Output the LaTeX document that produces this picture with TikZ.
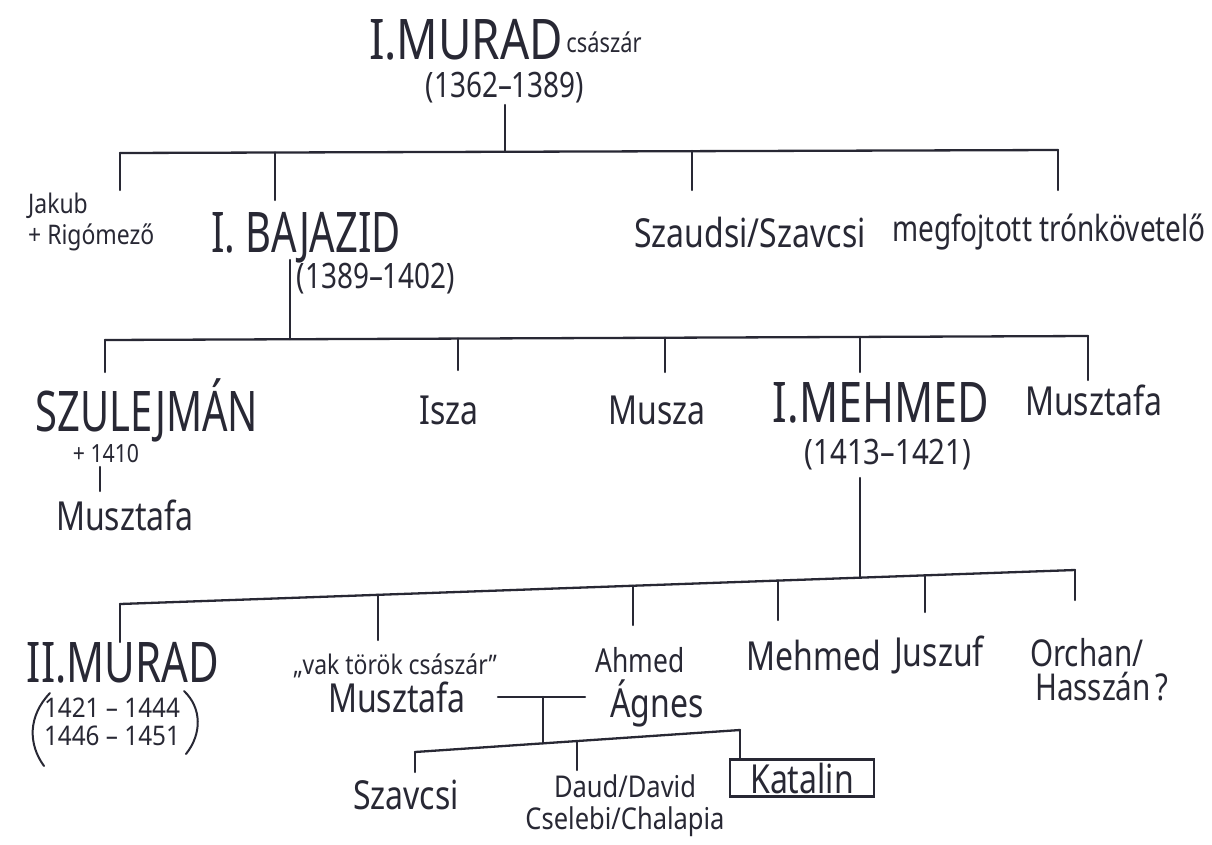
\documentclass[tikz,border=0pt]{standalone}
\usepackage{fontspec}
\setmainfont{Noto Sans}
\definecolor{ink}{RGB}{40,40,52}
\tikzset{
  big/.style={font=\fontsize{56}{56}\selectfont, xscale=0.75, text=ink, inner sep=0pt},
  med/.style={font=\fontsize{40}{40}\selectfont, xscale=0.8, text=ink, inner sep=0pt},
  sml/.style={font=\fontsize{27}{31}\selectfont, xscale=0.85, text=ink, inner sep=0pt},
  dat/.style={font=\fontsize{35}{36}\selectfont, xscale=0.84, text=ink, inner sep=0pt},
  ln/.style={draw=ink, line width=2.3pt, line cap=round, line join=round}
}
\begin{document}
\begin{tikzpicture}[x=1pt,y=-1pt]
\useasboundingbox[fill=white] (0,0) rectangle (1212,844);
% level 0
\node[big, xscale=1.09] (murad1) at (466,40) {I.MURAD};
\node[sml, xscale=0.95] (csaszar) at (604,42) {császár};
\node[dat, xscale=0.95] (d0) at (505,88) {(1362–1389)};
\coordinate (m0) at (505,105);
\coordinate (b0) at (505,151);
\coordinate (b0l) at (120,153);
\coordinate (b0r) at (1058,150);
\draw[ln] (m0) -- (b0);
\draw[ln] (b0l) -- (b0r);
% level 1
\node[sml, align=left, anchor=west] (jakub) at (28,222) {Jakub\\+ Rigómező};
\node[big, xscale=0.95] (bajazid) at (306,238) {I. BAJAZID};
\node[dat, xscale=0.95] (d1) at (376,279) {(1389–1402)};
\node[med] (szaudsi) at (750,232) {Szaudsi/Szavcsi};
\node[med, font=\fontsize{36}{36}\selectfont, xscale=0.97] (megfojtott) at (1049,232) {megfojtott trónkövetelő};
\coordinate (j1) at (120,190);
\coordinate (j2) at (275,200);
\coordinate (j3) at (692,190);
\coordinate (j4) at (1058,190);
\draw[ln] (b0l) -- (j1);
\draw[ln] (275,152.5) -- (j2);
\draw[ln] (692,151) -- (j3);
\draw[ln] (b0r) -- (j4);
% level 2
\coordinate (m1) at (290,260);
\coordinate (b1) at (290,339);
\coordinate (b1l) at (105,340);
\coordinate (b1r) at (1088,336);
\draw[ln] (m1) -- (b1);
\draw[ln] (b1l) -- (b1r);
\node[big, xscale=0.95] (szulejman) at (147,410) {SZULEJMÁN};
\node[sml, font=\fontsize{25}{25}\selectfont] (d2) at (106,454) {+ 1410};
\node[med] (musztafa1) at (125,515) {Musztafa};
\node[med] (isza) at (449,410) {Isza};
\node[med] (musza) at (657,410) {Musza};
\node[big, xscale=1.03] (mehmed1) at (881,403) {I.MEHMED};
\node[dat] (d3) at (888,455) {(1413–1421)};
\node[med] (musztafa2) at (1094,400) {Musztafa};
\coordinate (k1) at (105,372);
\coordinate (k2) at (458,370);
\coordinate (k3) at (665,372);
\coordinate (k4) at (860,372);
\coordinate (k5) at (1088,380);
\draw[ln] (b1l) -- (k1);
\draw[ln] (458,338.5) -- (k2);
\draw[ln] (665,337.7) -- (k3);
\draw[ln] (860,337) -- (k4);
\draw[ln] (b1r) -- (k5);
\coordinate (s1) at (100,467);
\coordinate (s2) at (100,491);
\draw[ln] (s1) -- (s2);
% level 3
\coordinate (m2) at (860,478);
\coordinate (b2) at (860,577.6);
\coordinate (b2l) at (120,604);
\coordinate (b2r) at (1075,570);
\draw[ln] (m2) -- (b2);
\draw[ln] (b2l) -- (b2r);
\coordinate (n1) at (120,642);
\coordinate (n2) at (378,640);
\coordinate (n3) at (633,625);
\coordinate (n4) at (778,620);
\coordinate (n5) at (925,612);
\coordinate (n6) at (1075,600);
\draw[ln] (b2l) -- (n1);
\draw[ln] (378,594.8) -- (n2);
\draw[ln] (633,585.7) -- (n3);
\draw[ln] (778,580.5) -- (n4);
\draw[ln] (925,575.3) -- (n5);
\draw[ln] (b2r) -- (n6);
\node[big] (murad2) at (123,663) {II.MURAD};
\node[font=\fontsize{27}{28}\selectfont, xscale=0.9, text=ink, inner sep=0pt, align=center] (d4) at (112,722) {1421 – 1444\\1446 – 1451};
\draw[ln, line width=2pt] (50,693) .. controls (28,716) and (28,744) .. (44,766);
\draw[ln, line width=2pt] (184,691) .. controls (202,708) and (202,734) .. (186,754);
\node[sml] (vak) at (395,666) {„vak török császár”};
\node[med] (musztafa3) at (397,697) {Musztafa};
\node[med, font=\fontsize{33}{33}\selectfont] (ahmed) at (640,660) {Ahmed};
\node[med] (agnes) at (657,703) {Ágnes};
\node[med] (mehmed2) at (814,655) {Mehmed};
\node[med] (juszuf) at (939,655) {Juszuf};
\node[med, font=\fontsize{37}{34}\selectfont, align=left, anchor=west] (orchan) at (1030,670) {Orchan/\\\,Hasszán\,?};
% marriage
\coordinate (h1) at (498,697);
\coordinate (h2) at (585,697);
\draw[ln] (h1) -- (h2);
\coordinate (h3) at (543,697);
\coordinate (b3) at (543,743.3);
\draw[ln] (h3) -- (b3);
% level 4
\coordinate (b3l) at (415,752);
\coordinate (b3r) at (740,730);
\draw[ln] (b3l) -- (b3r);
\coordinate (p1) at (415,772);
\coordinate (p2) at (577,770);
\draw[ln] (b3l) -- (p1);
\draw[ln] (577,741) -- (p2);
\node[med] (szavcsi) at (406,795) {Szavcsi};
\node[sml, font=\fontsize{30}{32}\selectfont, align=center] (daud) at (625,806) {Daud/David\\Cselebi/Chalapia};
\node[med, draw=ink, line width=2.3pt, minimum width=180pt, minimum height=37pt] (katalin) at (802,778) {Katalin};
\draw[ln] (b3r) -- (katalin.north -| b3r);
\end{tikzpicture}
\end{document}
